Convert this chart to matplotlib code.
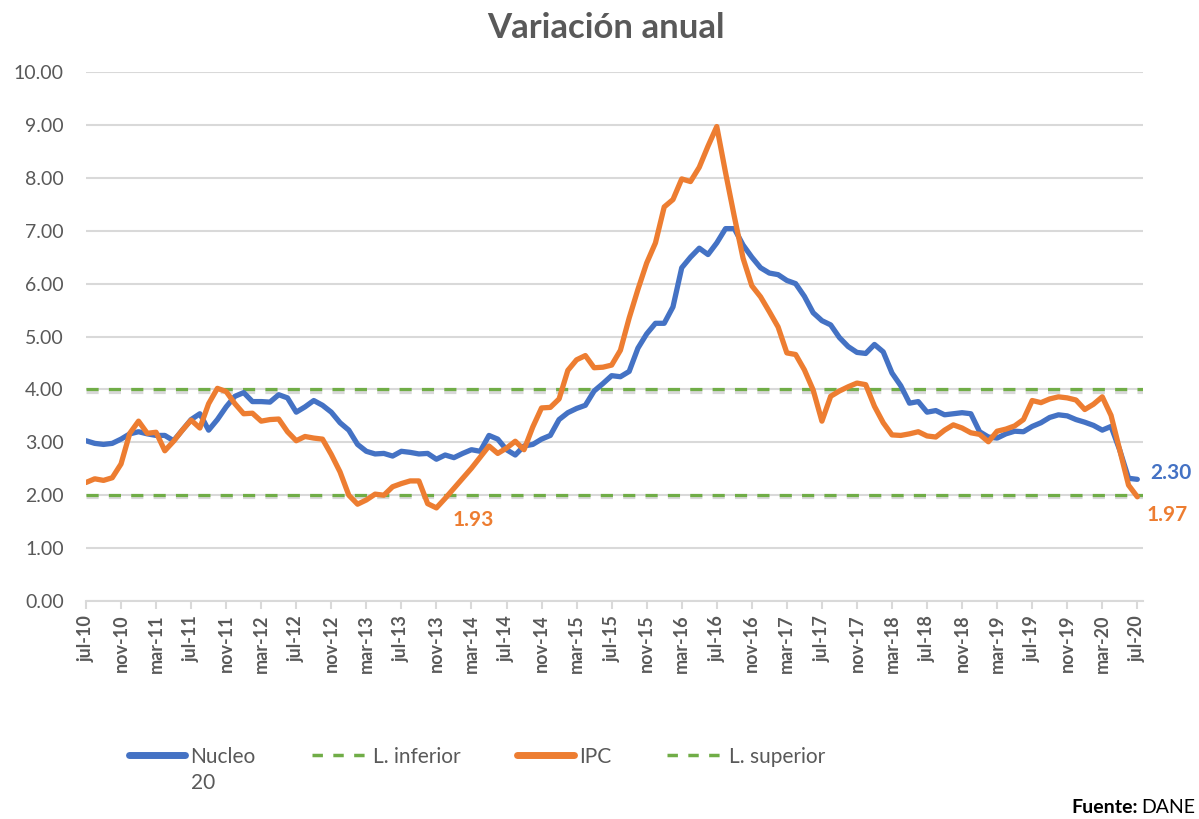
import numpy as np
import matplotlib
matplotlib.use('Agg')
import matplotlib.pyplot as plt
import matplotlib.patheffects as pe
from matplotlib.lines import Line2D

plt.rcParams['font.family'] = ['Lato', 'DejaVu Sans']

# ----------- DATA -----------
# monthly annual variation, jul-10 .. jul-20
nucleo20 = [3.03, 2.98, 2.96, 2.98, 3.06, 3.16, 3.20, 3.16, 3.13, 3.13,
            3.03, 3.23, 3.43, 3.54, 3.23, 3.43, 3.67, 3.87, 3.94, 3.77,
            3.77, 3.76, 3.90, 3.84, 3.57, 3.67, 3.79, 3.70, 3.57, 3.37,
            3.23, 2.96, 2.83, 2.78, 2.79, 2.74, 2.83, 2.81, 2.78, 2.79,
            2.68, 2.76, 2.71, 2.79, 2.86, 2.83, 3.13, 3.06, 2.86, 2.76,
            2.93, 2.96, 3.06, 3.13, 3.43, 3.56, 3.64, 3.70, 3.97, 4.11,
            4.26, 4.24, 4.34, 4.78, 5.05, 5.25, 5.25, 5.56, 6.30, 6.50,
            6.67, 6.55, 6.77, 7.04, 7.04, 6.73, 6.50, 6.30, 6.20, 6.17,
            6.06, 6.00, 5.76, 5.45, 5.30, 5.22, 4.98, 4.81, 4.70, 4.68,
            4.85, 4.71, 4.31, 4.07, 3.74, 3.77, 3.57, 3.60, 3.52, 3.54,
            3.56, 3.54, 3.20, 3.10, 3.08, 3.16, 3.21, 3.20, 3.30, 3.37,
            3.47, 3.52, 3.50, 3.43, 3.38, 3.32, 3.23, 3.30, 2.85, 2.32, 2.30]

ipc = [2.24, 2.31, 2.28, 2.33, 2.59, 3.17, 3.40, 3.17, 3.19, 2.84,
       3.02, 3.23, 3.42, 3.27, 3.73, 4.02, 3.96, 3.73, 3.54, 3.55,
       3.40, 3.43, 3.44, 3.20, 3.03, 3.11, 3.08, 3.06, 2.77, 2.44,
       2.00, 1.83, 1.91, 2.02, 2.00, 2.16, 2.22, 2.27, 2.27, 1.84,
       1.76, 1.94, 2.13, 2.32, 2.51, 2.72, 2.93, 2.79, 2.89, 3.02,
       2.86, 3.29, 3.65, 3.66, 3.82, 4.36, 4.56, 4.64, 4.41, 4.42,
       4.46, 4.74, 5.35, 5.89, 6.39, 6.77, 7.45, 7.59, 7.98, 7.93,
       8.20, 8.60, 8.97, 8.10, 7.27, 6.48, 5.96, 5.75, 5.47, 5.18,
       4.69, 4.66, 4.37, 3.99, 3.40, 3.87, 3.97, 4.05, 4.12, 4.09,
       3.68, 3.37, 3.14, 3.13, 3.16, 3.20, 3.12, 3.10, 3.23, 3.33,
       3.27, 3.18, 3.15, 3.01, 3.21, 3.25, 3.31, 3.43, 3.79, 3.75,
       3.82, 3.86, 3.84, 3.80, 3.62, 3.72, 3.86, 3.51, 2.85, 2.19, 1.97]

lim_inferior = 2.0
lim_superior = 4.0

mes = ['ene', 'feb', 'mar', 'abr', 'may', 'jun', 'jul', 'ago', 'sep', 'oct', 'nov', 'dic']
labels = []
for i in range(len(ipc)):
    m = (6 + i) % 12
    y = 10 + (6 + i) // 12
    labels.append('%s-%02d' % (mes[m], y))

# ----------- PLOT -----------
BLUE = '#4472C4'
ORANGE = '#ED7D31'
GREEN = '#70AD47'
GRAY = '#595959'
GRID = '#D9D9D9'

fig = plt.figure(figsize=(11.99, 8.19), dpi=100)
ax = fig.add_axes([0.0717, 0.2662, 0.8816, 0.6458])

x = np.arange(len(ipc))
shadow = [pe.SimpleLineShadow(offset=(0, -1.5), shadow_color='#808080', alpha=0.3), pe.Normal()]

ax.axhline(lim_inferior, color=GREEN, lw=2.3, dashes=(3.8, 3.2), zorder=3, path_effects=shadow)
ax.axhline(lim_superior, color=GREEN, lw=2.3, dashes=(3.8, 3.2), zorder=3, path_effects=shadow)
ax.plot(x, nucleo20, color=BLUE, lw=3.8, solid_joinstyle='round', solid_capstyle='round', zorder=4)
ax.plot(x, ipc, color=ORANGE, lw=3.8, solid_joinstyle='round', solid_capstyle='round', zorder=5)

ax.set_xlim(0, 120.65)
ax.set_ylim(0, 10)
ax.set_yticks(np.arange(0, 11, 1))
ax.set_yticklabels(['%.2f' % v for v in np.arange(0, 11, 1)], fontsize=14, color=GRAY)
ax.set_xticks(x[::4])
ax.set_xticklabels(labels[::4], rotation=90, fontsize=13, color=GRAY, fontweight='bold')
ax.grid(axis='y', color=GRID, lw=1.5)
ax.set_axisbelow(True)
for s in ['left', 'right', 'top']:
    ax.spines[s].set_visible(False)
ax.spines['bottom'].set_color(GRID)
ax.spines['bottom'].set_linewidth(1.5)
ax.tick_params(axis='y', length=0, pad=16)
ax.tick_params(axis='x', length=6, width=1.5, color=GRID, pad=4)

# data labels
ax.text(121.5, 2.42, '2.30', color=BLUE, fontsize=15, fontweight='bold', va='center', ha='left', clip_on=False)
ax.text(121.1, 1.63, '1.97', color=ORANGE, fontsize=15, fontweight='bold', va='center', ha='left', clip_on=False)
ax.text(41.8, 1.53, '1.93', color=ORANGE, fontsize=15, fontweight='bold', va='center', ha='left')

fig.text(0.505, 0.966, 'Variación anual', ha='center', va='center', fontsize=25, fontweight='bold', color=GRAY)

# legend
handles = [Line2D([], [], color=BLUE, lw=5, solid_capstyle='round'),
           Line2D([], [], color=GREEN, lw=2.5, dashes=(3, 3)),
           Line2D([], [], color=ORANGE, lw=5, solid_capstyle='round'),
           Line2D([], [], color=GREEN, lw=2.5, dashes=(3, 3))]
leg = fig.legend(handles, ['Nucleo', 'L. inferior', 'IPC', 'L. superior'], ncol=4,
                 loc='center left', bbox_to_anchor=(0.092, 0.076), frameon=False,
                 prop={'size': 15}, handlelength=2.7, handletextpad=0.25,
                 columnspacing=2.7, labelcolor=GRAY)

fig.canvas.draw()
W, H = fig.canvas.get_width_height()
bb = leg.get_texts()[0].get_window_extent()
fig.text(bb.x0 / W, (bb.y0 - 6) / H, '20', ha='left', va='top', fontsize=15, color=GRAY)

# source
t_dane = fig.text(0.997, 0.0135, 'DANE', ha='right', va='center', fontsize=14, color='black')
fig.canvas.draw()
bd = t_dane.get_window_extent()
fig.text((bd.x0 - 4) / W, 0.0135, 'Fuente:', ha='right', va='center', fontsize=14,
         fontweight='bold', color='black')

fig.savefig('out.png', dpi=100)
